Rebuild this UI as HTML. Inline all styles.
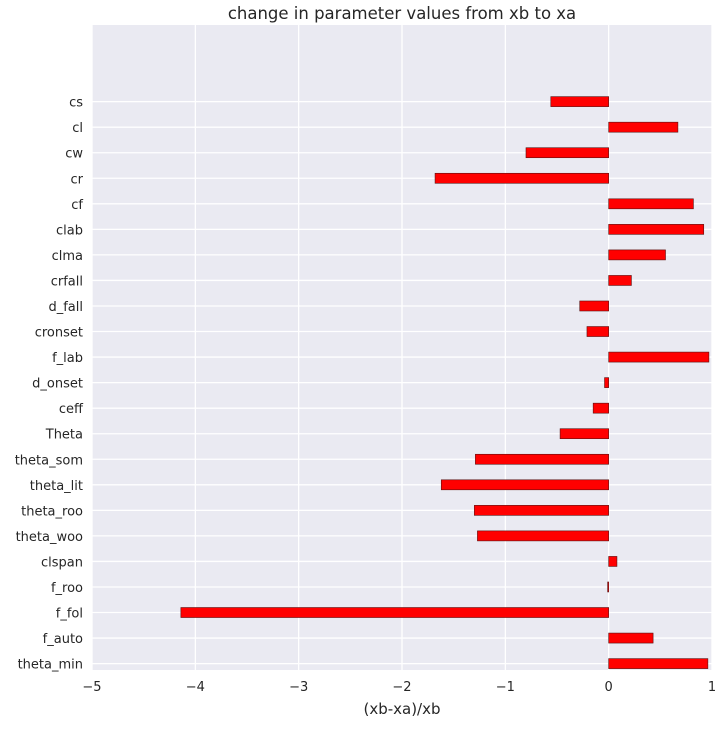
<!DOCTYPE html>
<html><head><meta charset="utf-8"><style>
body{margin:0;background:#fff;font-family:"DejaVu Sans","Liberation Sans",sans-serif}
text{font-family:"DejaVu Sans","Liberation Sans",sans-serif}
</style></head><body>
<svg id="chart" width="724" height="726" xmlns="http://www.w3.org/2000/svg"></svg>
<script>
const categories=["theta_min","f_auto","f_fol","f_roo","clspan","theta_woo","theta_roo","theta_lit","theta_som","Theta","ceff","d_onset","f_lab","cronset","d_fall","crfall","clma","clab","cf","cr","cw","cl","cs"];
const values=[0.96,0.43,-4.14,-0.01,0.08,-1.27,-1.30,-1.62,-1.29,-0.47,-0.15,-0.04,0.97,-0.21,-0.28,0.22,0.55,0.92,0.82,-1.68,-0.80,0.67,-0.56];
const xTicks=[-5,-4,-3,-2,-1,0,1];
const NS="http://www.w3.org/2000/svg";
const svg=document.getElementById('chart');
const L=92,R=712,T=25,B=670;
const xS=v=>L+(v+5)/6*(R-L);
const yS=i=>B-(i+0.25)/25.25*(B-T);
function mk(t,a,txt){const e=document.createElementNS(NS,t);for(const k in a)e.setAttribute(k,a[k]);if(txt!==undefined)e.textContent=txt;svg.appendChild(e);return e;}
let e=mk('rect',{x:L,y:T,width:R-L,height:B-T,fill:'#eaeaf2'});


xTicks.forEach(t=>{
  let g=mk('line',{x1:xS(t),x2:xS(t),y1:T,y2:B,stroke:'#fff','stroke-width':1.3});
  
  
  let l=mk('text',{x:xS(t),y:B+21,'text-anchor':'middle','font-size':13,fill:'#262626'},t<0?'\u2212'+(-t):String(t));
  
  
});
categories.forEach((c,i)=>{
  let g=mk('line',{x1:L,x2:R,y1:yS(i),y2:yS(i),stroke:'#fff','stroke-width':1.3});
  
  
  let l=mk('text',{x:L-9,y:yS(i)+5,'text-anchor':'end','font-size':13,fill:'#262626'},c);
  
  
});
categories.forEach((c,i)=>{
  const v=values[i];const h=10;
  let b=mk('rect',{x:Math.min(xS(0),xS(v)),y:yS(i)-h/2,width:Math.abs(xS(v)-xS(0)),height:h,fill:'#ff0000',stroke:'#5a1010','stroke-width':0.6});
  
  
});
let t=mk('text',{x:(L+R)/2,y:T-6,'text-anchor':'middle','font-size':16.5,fill:'#262626'},'change in parameter values from xb to xa');


let xl=mk('text',{x:(L+R)/2,y:714,'text-anchor':'middle','font-size':15,fill:'#262626'},'(xb-xa)/xb');


</script>
</body></html>
